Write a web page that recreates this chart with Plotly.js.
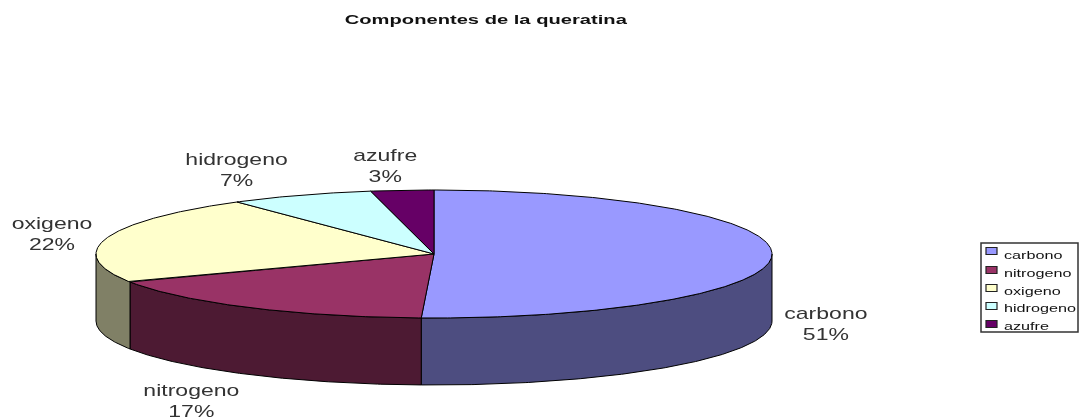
<!DOCTYPE html>
<html>
<head>
<meta charset="utf-8">
<script src="https://cdn.plot.ly/plotly-3.0.1.min.js"></script>
<style>
html,body{margin:0;padding:0;background:#fff;overflow:hidden}
#chart{filter:blur(0.55px)}
.gtitle{transform-box:fill-box;transform-origin:center;transform:scaleX(1.68)}
</style>
</head>
<body>
<div id="chart" style="width:1079px;height:420px"></div>
<script>
// ---- data ----
const chartTitle = "Componentes de la queratina";
const categories = ["carbono", "nitrogeno", "oxigeno", "hidrogeno", "azufre"];
const values = [50.6, 17.2, 22.3, 6.9, 3.0];

// ---- style ----
const topColors = ["#9999FF", "#993366", "#FFFFCC", "#CCFFFF", "#660066"];
const sideColors = ["#4D4D80", "#4D1A33", "#808066", "#668080", "#330033"];
const labelX = [826, 191, 52, 236, 385];
const labelY = [324, 401, 234, 170, 166];
const legendBox = {x0: 981, x1: 1078, y0: 243, y1: 332};
const swatchX = [986, 997];
const swatchY = [251, 270, 288, 306, 324];
const legendTextX = 1002;
const legendTextY = [255, 273, 291, 308, 326];
const cx = 434, cy = 254, rx = 338, ry = 64, depth = 67;

// ---- projection of the tilted disc ----
const total = values.reduce((a, b) => a + b, 0);
const px = t => cx + rx * Math.sin(t * Math.PI / 180);
const py = (t, d) => cy - ry * Math.cos(t * Math.PI / 180) + d;
function arc(a, b, d) {
  const n = Math.max(2, Math.ceil(Math.abs(b - a) * 2)), xs = [], ys = [];
  for (let i = 0; i <= n; i++) {
    const t = a + (b - a) * i / n;
    xs.push(px(t)); ys.push(py(t, d));
  }
  return [xs, ys];
}

const sideTraces = [], topTraces = [];
let start = 0;
values.forEach((v, i) => {
  const end = start + v / total * 360;
  const a = Math.max(start, 90), b = Math.min(end, 270);
  if (b > a) {
    const [x1, y1] = arc(a, b, 0), [x2, y2] = arc(b, a, depth);
    sideTraces.push({
      type: "scatter", mode: "lines", fill: "toself", fillcolor: sideColors[i],
      x: [...x1, ...x2, x1[0]], y: [...y1, ...y2, y1[0]],
      line: {color: "#000", width: 1}, hoverinfo: "skip", showlegend: false
    });
  }
  const [xt, yt] = arc(start, end, 0);
  topTraces.push({
    type: "scatter", mode: "lines", fill: "toself", fillcolor: topColors[i],
    x: [cx, ...xt, cx], y: [cy, ...yt, cy],
    line: {color: "#000", width: 1}, name: categories[i], showlegend: false,
    hoverinfo: "name"
  });
  start = end;
});

// ---- labels and the legend ----
const annotations = categories.map((c, i) => ({
  x: labelX[i], y: labelY[i], xref: "x", yref: "y", showarrow: false,
  text: c + "<br>" + Math.round(values[i]) + "%",
  font: {family: "Liberation Sans", size: 16, color: "#333"}
})).concat(categories.map((c, i) => ({
  x: legendTextX, y: legendTextY[i], xref: "x", yref: "y", showarrow: false,
  xanchor: "left", text: c,
  font: {family: "Liberation Sans", size: 10, color: "#111"}
})));

const shapes = [{
  type: "rect", xref: "x", yref: "y", x0: legendBox.x0, x1: legendBox.x1,
  y0: legendBox.y0, y1: legendBox.y1, line: {color: "#333", width: 1.5}, fillcolor: "#fff"
}].concat(categories.map((c, i) => ({
  type: "rect", xref: "x", yref: "y", x0: swatchX[0], x1: swatchX[1],
  y0: swatchY[i] - 3.5, y1: swatchY[i] + 3.5,
  line: {color: "#222", width: 1.2}, fillcolor: topColors[i]
})));

const layout = {
  width: 1079, height: 420, autosize: false,
  margin: {l: 0, r: 0, t: 0, b: 0},
  paper_bgcolor: "#fff", plot_bgcolor: "#fff",
  showlegend: false,
  title: {
    text: chartTitle, x: 486 / 1079, xanchor: "center", y: 1 - 20 / 420, yanchor: "middle",
    font: {family: "Liberation Sans", size: 12, weight: 700, color: "#111"}
  },
  xaxis: {range: [0, 1079], visible: false, fixedrange: true},
  yaxis: {range: [420, 0], visible: false, fixedrange: true},
  shapes, annotations
};

Plotly.newPlot("chart", [...sideTraces, ...topTraces], layout, {displayModeBar: false, staticPlot: true}).then(() => {
  // The reference text is stretched horizontally.
  document.querySelectorAll(".annotation").forEach((g, i) => {
    const t = g.querySelector(".annotation-text");
    if (!t) return;
    t.style.transformBox = "fill-box";
    t.style.transformOrigin = i < categories.length ? "center" : "left center";
    t.style.transform = i < categories.length ? "scaleX(1.44)" : "scaleX(1.62)";
  });
});
</script>
</body>
</html>
